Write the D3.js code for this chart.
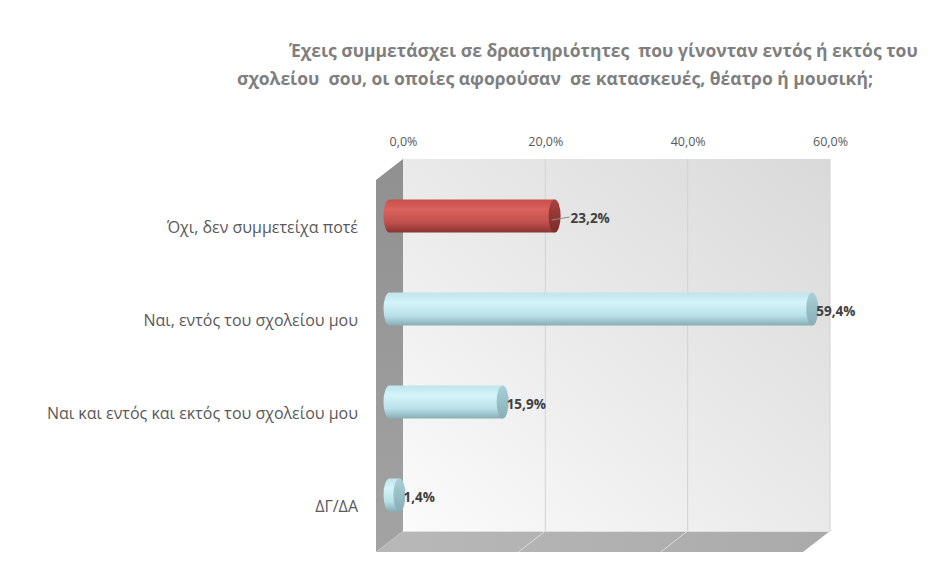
<!DOCTYPE html>
<html>
<head>
<meta charset="utf-8">
<script src="https://cdn.jsdelivr.net/npm/d3@7"></script>
<style>
  body { margin: 0; background: #fff; }
  text { font-family: "Open Sans", "Noto Sans", sans-serif; }
</style>
</head>
<body>
<svg width="928" height="561"></svg>
<script>
var titleLines = [
  "Έχεις συμμετάσχει σε δραστηριότητες  που γίνονταν εντός ή εκτός του",
  "σχολείου  σου, οι οποίες αφορούσαν  σε κατασκευές, θέατρο ή μουσική;"
];
var categories = ["Όχι, δεν συμμετείχα ποτέ", "Ναι, εντός του σχολείου μου",
                  "Ναι και εντός και εκτός του σχολείου μου", "ΔΓ/ΔΑ"];
var values = [0.232, 0.594, 0.159, 0.014];
var tickValues = [0, 0.2, 0.4, 0.6];

var svg = d3.select("svg"),
    width = +svg.attr("width"),
    height = +svg.attr("height");

var locale = d3.formatLocale({decimal: ",", thousands: ".", grouping: [3], currency: ["", "€"]});
var pct = locale.format(".1%");

// back plane of the 3d box, and the depth offset to the front plane
var x = d3.scaleLinear().domain([0, 0.6]).range([403, 830]);
var wallTop = 159, wallBottom = 531;
var ddx = -27, ddy = 21;

var y = d3.scaleBand().domain(categories).range([wallTop + ddy, wallBottom + ddy]);

var defs = svg.append("defs");
function grad(id, stops, x1, y1, x2, y2) {
  var g = defs.append("linearGradient").attr("id", id)
      .attr("x1", x1).attr("y1", y1).attr("x2", x2).attr("y2", y2);
  stops.forEach(function(s) {
    g.append("stop").attr("offset", s[0]).attr("stop-color", s[1]);
  });
}
grad("wall", [[0, "#d9d9d9"], [0.55, "#ebebeb"], [1, "#fbfbfb"]], 1, 0, 0, 1);
grad("side", [[0, "#909090"], [1, "#a3a3a3"]], 0, 0, 0, 1);
grad("floor", [[0, "#b8b8b8"], [1, "#aaaaaa"]], 0, 0, 1, 0);
grad("red", [[0, "#c94f4b"], [0.3, "#da625d"], [0.7, "#c0504d"], [1, "#8a3431"]], 0, 0, 0, 1);
grad("redcap", [[0, "#a8433f"], [1, "#7a2b29"]], 0, 0, 0, 1);
grad("cyan", [[0, "#bfe4ec"], [0.3, "#d3f4f9"], [0.7, "#b9e0e8"], [1, "#87adb5"]], 0, 0, 0, 1);
grad("cyancap", [[0, "#a9d0d8"], [1, "#87aeb6"]], 0, 0, 0, 1);

// title
svg.append("g").selectAll("text")
  .data(titleLines)
  .enter().append("text")
    .attr("x", function(d, i) { return i == 0 ? 289 : 237; })
    .attr("y", function(d, i) { return 57 + i * 28; })
    .attr("font-size", "17.5px")
    .attr("font-weight", "bold")
    .attr("fill", "#7f7f7f")
    .style("white-space", "pre")
    .text(function(d) { return d; });

// walls
svg.append("rect")
    .attr("x", x(0)).attr("y", wallTop)
    .attr("width", x(0.6) - x(0)).attr("height", wallBottom - wallTop)
    .attr("fill", "url(#wall)");

svg.append("path")
    .attr("d", "M" + x(0) + "," + wallTop + "L" + (x(0) + ddx) + "," + (wallTop + ddy) +
               "L" + (x(0) + ddx) + "," + (wallBottom + ddy) + "L" + x(0) + "," + wallBottom + "Z")
    .attr("fill", "url(#side)");

svg.append("path")
    .attr("d", "M" + x(0) + "," + wallBottom + "L" + x(0.6) + "," + wallBottom +
               "L" + (x(0.6) + ddx) + "," + (wallBottom + ddy) + "L" + (x(0) + ddx) + "," + (wallBottom + ddy) + "Z")
    .attr("fill", "url(#floor)");

// gridlines
svg.append("g").selectAll("line")
  .data(tickValues.slice(1))
  .enter().append("line")
    .attr("x1", function(d) { return x(d); }).attr("x2", function(d) { return x(d); })
    .attr("y1", wallTop).attr("y2", wallBottom)
    .attr("stroke", "#d2d2d2");

svg.append("g").selectAll("line")
  .data(tickValues.slice(1, 3))
  .enter().append("line")
    .attr("x1", function(d) { return x(d); }).attr("x2", function(d) { return x(d) + ddx; })
    .attr("y1", wallBottom).attr("y2", wallBottom + ddy)
    .attr("stroke", "#dcdcdc");

svg.append("line")
    .attr("x1", x(0)).attr("x2", x(0.6))
    .attr("y1", wallBottom + 0.5).attr("y2", wallBottom + 0.5)
    .attr("stroke", "#e0e0e0");

// top axis
var axis = svg.append("g")
    .attr("transform", "translate(0,146)")
    .call(d3.axisTop(x).tickValues(tickValues).tickFormat(pct).tickSize(0).tickPadding(0));
axis.select(".domain").remove();
axis.selectAll("text")
    .attr("font-family", "Open Sans, sans-serif")
    .attr("font-size", "12.5px")
    .attr("fill", "#595959")
    .attr("dy", 0);

// category labels
svg.append("g").selectAll("text")
  .data(categories)
  .enter().append("text")
    .attr("x", 358)
    .attr("y", function(d) { return y(d) + y.bandwidth() / 2 + 6; })
    .attr("text-anchor", "end")
    .attr("font-size", "16px")
    .attr("fill", "#595959")
    .text(function(d) { return d; });

// cylinders, sitting halfway through the depth
var mx = ddx / 2, my = ddy / 2;
var rx = 6, ry = 16.5;
function cy(d) { return y(d) + y.bandwidth() / 2 - my; }
var bars = categories.map(function(c, i) { return {cat: c, v: values[i], i: i}; });

var g = svg.append("g").attr("class", "bars");
g.selectAll("path.body")
  .data(bars)
  .enter().append("path")
    .attr("class", "body")
    .attr("d", function(d) {
      var x0 = x(0) + mx, x1 = x(d.v) + mx, c = cy(d.cat);
      return "M" + x0 + "," + (c - ry) + "L" + x1 + "," + (c - ry) + "L" + x1 + "," + (c + ry) +
             "L" + x0 + "," + (c + ry) + "A" + rx + "," + ry + " 0 0 1 " + x0 + "," + (c - ry) + "Z";
    })
    .attr("fill", function(d) { return d.i == 0 ? "url(#red)" : "url(#cyan)"; });

g.selectAll("ellipse")
  .data(bars)
  .enter().append("ellipse")
    .attr("cx", function(d) { return x(d.v) + mx; })
    .attr("cy", function(d) { return cy(d.cat); })
    .attr("rx", rx).attr("ry", ry)
    .attr("fill", function(d) { return d.i == 0 ? "url(#redcap)" : "url(#cyancap)"; });

// data labels; the first one was dragged off the bar with a leader line
var labelShift = [12, 0, 0, 0];
g.selectAll("line.leader")
  .data(bars.filter(function(d) { return labelShift[d.i] > 0; }))
  .enter().append("line")
    .attr("class", "leader")
    .attr("x1", function(d) { return x(d.v) + mx - 3; })
    .attr("y1", function(d) { return cy(d.cat) + 4; })
    .attr("x2", function(d) { return x(d.v) + mx + 3 + labelShift[d.i]; })
    .attr("y2", function(d) { return cy(d.cat) + 1; })
    .attr("stroke", "#8c8c8c");

g.selectAll("text")
  .data(bars)
  .enter().append("text")
    .attr("x", function(d) { return x(d.v) + mx + 4 + labelShift[d.i]; })
    .attr("y", function(d) { return cy(d.cat) + 7; })
    .attr("font-size", "13.5px")
    .attr("font-weight", "bold")
    .attr("fill", "#404040")
    .text(function(d) { return pct(d.v); });
</script>
</body>
</html>
